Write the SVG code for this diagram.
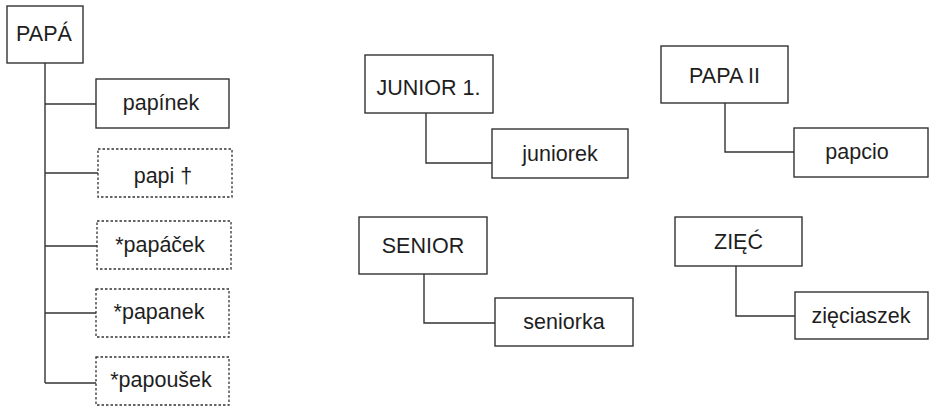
<svg xmlns="http://www.w3.org/2000/svg" width="930" height="407" viewBox="0 0 930 407">
  <style>
    .box { fill: #ffffff; stroke: #333333; stroke-width: 1.4; }
    .dot { fill: #ffffff; stroke: #333333; stroke-width: 1.3; stroke-dasharray: 2.5 2; }
    .link { fill: none; stroke: #333333; stroke-width: 1.4; }
    text { font-family: "Liberation Sans", Arial, sans-serif; font-size: 21.5px; fill: #1e1e1e; text-anchor: middle; }
  </style>
  <rect width="930" height="407" fill="#ffffff"/>

  <g id="connectors">
    <path class="link" d="M45 63 V383"/>
    <path class="link" d="M45 104 H96"/>
    <path class="link" d="M45 173 H98"/>
    <path class="link" d="M45 246 H97"/>
    <path class="link" d="M45 313 H96"/>
    <path class="link" d="M45 383 H96"/>
    <path class="link" d="M426 113 V163 H492"/>
    <path class="link" d="M424 274 V323 H495"/>
    <path class="link" d="M725 103 V152 H794"/>
    <path class="link" d="M736 266 V316 H795"/>
  </g>

  <g id="papa">
    <rect class="box" x="7" y="6" width="76" height="57"/>
    <text x="44" y="41">PAPÁ</text>
  </g>
  <g id="papinek">
    <rect class="box" x="96" y="79" width="133" height="49"/>
    <text x="161" y="110">papínek</text>
  </g>
  <g id="papi">
    <rect class="dot" x="98" y="149" width="134" height="48"/>
    <text x="163" y="183">papi †</text>
  </g>
  <g id="papacek">
    <rect class="dot" x="97" y="221" width="134" height="48"/>
    <text x="160" y="252">*papáček</text>
  </g>
  <g id="papanek">
    <rect class="dot" x="96" y="289" width="133" height="48"/>
    <text x="159" y="319">*papanek</text>
  </g>
  <g id="papousek">
    <rect class="dot" x="96" y="357" width="133" height="48"/>
    <text x="161" y="387">*papoušek</text>
  </g>

  <g id="junior">
    <rect class="box" x="365" y="55" width="128" height="58"/>
    <text x="428.5" y="95">JUNIOR 1.</text>
  </g>
  <g id="juniorek">
    <rect class="box" x="492" y="129" width="136" height="49"/>
    <text x="560" y="161">juniorek</text>
  </g>

  <g id="senior">
    <rect class="box" x="359" y="217" width="128" height="57"/>
    <text x="423" y="253">SENIOR</text>
  </g>
  <g id="seniorka">
    <rect class="box" x="495" y="298" width="138" height="48"/>
    <text x="564" y="329">seniorka</text>
  </g>

  <g id="papa2">
    <rect class="box" x="661" y="46" width="127" height="57"/>
    <text x="724.5" y="83">PAPA II</text>
  </g>
  <g id="papcio">
    <rect class="box" x="794" y="128" width="134" height="49"/>
    <text x="857" y="159">papcio</text>
  </g>

  <g id="ziec">
    <rect class="box" x="675" y="217" width="127" height="49"/>
    <text x="738.5" y="249">ZIĘĆ</text>
  </g>
  <g id="zieciaszek">
    <rect class="box" x="795" y="292" width="133" height="47"/>
    <text x="861" y="323">zięciaszek</text>
  </g>
</svg>
